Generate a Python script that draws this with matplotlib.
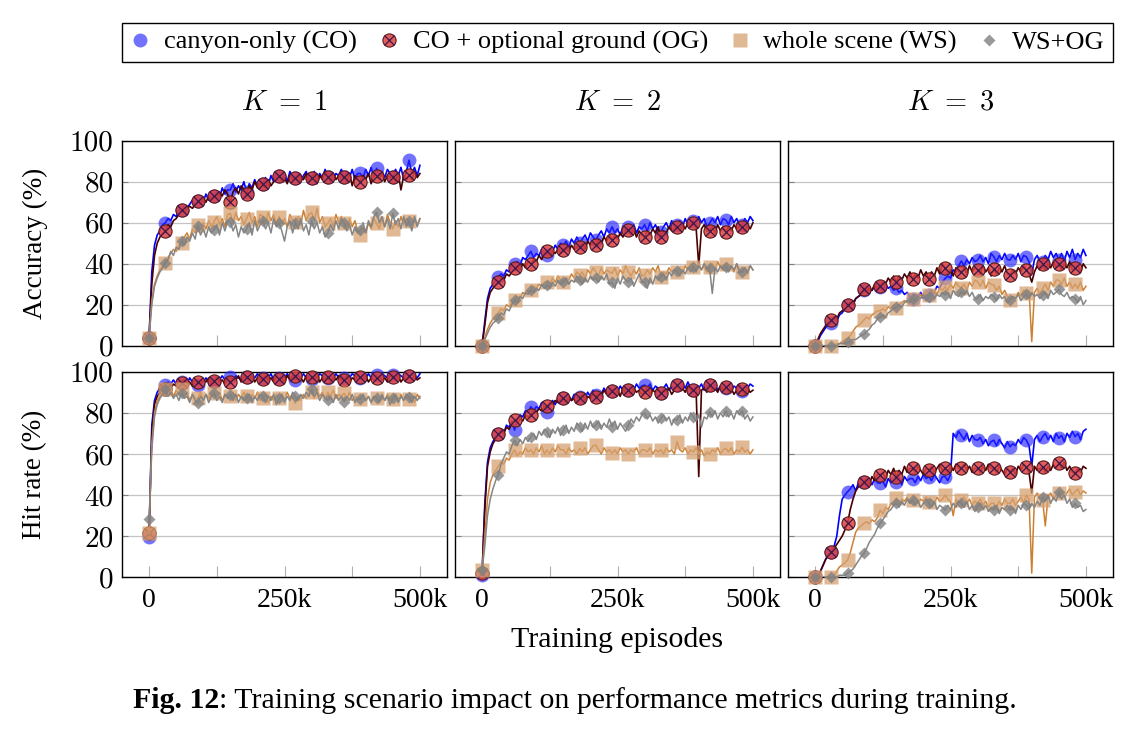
import numpy as np
import matplotlib
matplotlib.use("Agg")
import matplotlib.pyplot as plt
from matplotlib.lines import Line2D
from matplotlib.legend_handler import HandlerTuple

plt.rcParams['font.family'] = 'Liberation Serif'
plt.rcParams['mathtext.fontset'] = 'cm'

# training episodes, one value every 5k; marks every 30k
episodes = np.arange(0, 500001, 5000)

# ---- Accuracy, K = 1
acc_k1_co = [4, 36, 49, 54, 56, 59, 60, 62, 61, 64, 63, 66, 66, 68, 67, 69, 71, 68,
             70.5, 72, 70, 74, 71, 73, 73, 75, 72, 77, 74, 76, 76, 79, 75, 78, 76, 80,
             75, 79, 77, 81, 78, 80, 79, 82, 78, 83, 80, 84, 83, 81, 84, 80, 85, 82,
             81.6, 84, 80, 83, 85, 81, 82, 85, 81, 84, 82, 86, 82.5, 85, 81, 84, 83, 86,
             82.5, 85, 82, 86, 81, 84, 84, 82, 86, 83, 87, 82, 86.5, 83, 85, 82, 86, 84,
             82.5, 86, 83, 87, 81, 85, 90.5, 84, 87, 83, 88]
acc_k1_og = [4, 30, 44, 50, 53, 55, 56, 59, 58, 61, 62, 64, 66, 65, 67, 68, 67, 69,
             70.5, 69, 72, 70, 73, 71, 73, 72, 75, 73, 76, 74, 70, 75, 77, 74, 78, 76,
             74, 78, 76, 80, 77, 79, 79, 77, 81, 78, 80, 82, 83, 80, 82, 79, 83, 81,
             82, 80, 83, 81, 84, 80, 82, 84, 79, 83, 81, 85, 82.5, 80, 84, 81, 83, 82,
             82.5, 80, 84, 78, 83, 81, 80, 83, 81, 84, 79, 83, 83, 81, 84, 80, 83, 82,
             82.5, 80, 84, 76, 83, 81, 83.5, 81, 85, 82, 84]
acc_k1_ws = [4, 22, 30, 34, 37, 39, 40.5, 43, 45, 47, 46, 49, 50, 53, 55, 52, 57, 55,
             59, 56, 60, 57, 61, 58, 60.5, 63, 59, 62, 58, 64, 64.5, 60, 65, 61, 63, 59,
             62, 65, 60, 63, 58, 64, 63, 60, 65, 61, 64, 59, 63, 60, 62, 58, 64, 61,
             60.5, 63, 59, 66, 61, 64, 65, 61, 67, 60, 63, 58, 59.7, 62, 58, 64, 60, 63,
             60, 57, 62, 58, 61, 56, 54, 58, 55, 60, 57, 62, 59.7, 57, 62, 58, 64, 60,
             57, 61, 58, 63, 59, 62, 61, 57, 63, 59, 62]
acc_k1_wsog = [4, 20, 29, 33, 36, 38, 40.5, 42, 46, 44, 48, 47, 51, 49, 53, 51, 55, 52,
               58.5, 54, 57, 53, 58, 55, 56.5, 59, 54, 60, 56, 61, 60.5, 56, 59, 53, 58, 55,
               57, 60, 54, 61, 56, 59, 61, 57, 60, 55, 62, 58, 60, 56, 51, 58, 61, 55,
               60, 57, 62, 56, 59, 54, 61, 57, 60, 55, 58, 53, 55, 59, 56, 61, 57, 62,
               60, 56, 59, 54, 58, 55, 56.5, 60, 55, 61, 58, 63, 65, 60, 63, 58, 62, 57,
               64.5, 59, 62, 57, 63, 58, 61, 56, 63, 58, 62]

# ---- Accuracy, K = 2
acc_k2_co = [0, 12, 23, 28, 30, 32, 33.6, 35, 34, 37, 36, 39, 40, 41, 39, 43, 42, 44,
             46, 43, 45, 44, 47, 45, 44, 47, 46, 49, 47, 50, 49, 51, 48, 52, 50, 53,
             50, 52, 54, 51, 55, 53, 51.5, 54, 56, 53, 57, 55, 58, 55, 57, 54, 58, 56,
             58, 56, 59, 55, 58, 57, 59, 56, 60, 57, 59, 56, 55.6, 58, 60, 57, 61, 58,
             59, 61, 58, 62, 59, 60, 61, 59, 63, 60, 62, 58, 59.7, 62, 60, 63, 59, 62,
             61.3, 59, 63, 60, 62, 59, 59, 62, 60, 63, 61]
acc_k2_og = [0, 10, 21, 26, 28, 30, 31, 33, 32, 35, 34, 36, 37.7, 39, 37, 40, 38, 41,
             40, 42, 41, 44, 42, 45, 46, 44, 46, 45, 47, 45, 46.7, 48, 46, 49, 47, 48,
             48, 50, 47, 51, 49, 50, 49, 52, 50, 53, 51, 54, 51.5, 54, 52, 55, 53, 56,
             56.4, 54, 57, 53, 56, 54, 53, 56, 54, 57, 55, 58, 53, 56, 55, 58, 56, 57,
             58, 56, 59, 57, 60, 58, 60, 58, 39, 57, 59, 56, 56, 58, 55, 59, 56, 58,
             55.6, 58, 56, 59, 57, 58, 58, 56, 59, 57, 60]
acc_k2_ws = [0, 4, 8, 11, 13, 15, 16, 18, 17, 20, 19, 21, 22.3, 24, 23, 26, 25, 27,
             27, 29, 28, 30, 29, 31, 31, 30, 33, 31, 34, 32, 31, 33, 32, 35, 33, 36,
             34.5, 36, 33, 37, 35, 38, 36, 34, 38, 35, 37, 36, 35.3, 38, 34, 37, 35, 39,
             36, 34, 37, 35, 38, 34, 34.5, 37, 35, 38, 36, 39, 33.7, 36, 35, 38, 36, 37,
             36, 38, 35, 39, 37, 40, 38.5, 36, 40, 37, 39, 36, 38.5, 40, 37, 41, 38, 39,
             40, 37, 39, 36, 40, 37, 36, 38, 35, 39, 37]
acc_k2_wsog = [0, 3, 6, 9, 11, 12, 13.7, 16, 15, 18, 17, 20, 22.3, 21, 24, 23, 26, 25,
               27, 26, 28, 27, 30, 28, 29.6, 28, 31, 29, 32, 30, 31, 33, 30, 32, 31, 34,
               32, 30, 33, 31, 34, 32, 33, 31, 34, 32, 35, 30, 31, 28, 33, 30, 34, 32,
               31, 33, 29, 32, 35, 31, 31, 28, 33, 30, 34, 32, 33.7, 35, 32, 36, 34, 37,
               36.4, 34, 37, 35, 38, 36, 38.5, 36, 39, 37, 40, 38, 37.7, 25.5, 38, 36, 39, 37,
               38.5, 36, 39, 37, 40, 36, 35.8, 38, 36, 39, 37]

# ---- Accuracy, K = 3
acc_k3_co = [0, 2, 5, 7, 9, 10, 11, 13, 12, 15, 16, 18, 19.8, 21, 20, 23, 24, 25,
             27, 26, 28, 27, 29, 27, 28.8, 27, 30, 28, 29, 27, 28, 26, 27, 25, 26, 24,
             23, 25, 24, 26, 23, 25, 24.7, 27, 26, 29, 28, 31, 32.8, 34, 33, 37, 36, 39,
             41.3, 39, 42, 40, 43, 41, 41.8, 44, 41, 43, 40, 45, 43.4, 41, 44, 42, 45, 42,
             41.8, 44, 42, 45, 41, 44, 43.4, 41, 35, 42, 44, 41, 41, 44, 42, 46, 43, 45,
             42, 45, 41, 46, 43, 47, 42, 45, 43, 47, 44]
acc_k3_og = [0, 3, 6, 8, 10, 11, 12.5, 14, 13, 16, 17, 18, 19.8, 21, 20, 23, 24, 25,
             27.6, 26, 28, 27, 30, 28, 29.3, 31, 30, 33, 31, 34, 31.2, 34, 32, 35, 33, 36,
             32.5, 35, 33, 37, 34, 36, 32.5, 36, 34, 38, 35, 40, 38, 35, 37, 34, 38, 36,
             36, 38, 35, 39, 36, 38, 37, 35, 39, 36, 38, 34, 37.2, 35, 38, 36, 39, 35,
             34.5, 37, 35, 38, 36, 39, 37, 35, 31, 36, 39, 37, 39.7, 37, 40, 38, 41, 38,
             39.7, 37, 40, 38, 41, 37, 37.7, 39, 36, 40, 38]
acc_k3_ws = [0, 0, 0, 0, 0, 0, 0, 0, 1, 1, 2, 3, 3.6, 5, 7, 9, 10, 11,
             12.5, 14, 13, 15, 16, 17, 17, 18, 17, 19, 18, 20, 18.5, 20, 21, 22, 21, 23,
             23, 24, 22, 25, 24, 26, 24.7, 26, 27, 25, 28, 27, 28.8, 27, 30, 28, 31, 29,
             28.3, 30, 27, 31, 29, 32, 31.2, 29, 32, 28, 31, 30, 29.6, 27, 29, 25, 27, 24,
             22.3, 24, 23, 26, 24, 27, 25.5, 27, 2, 26, 28, 25, 28, 30, 27, 31, 29, 32,
             32, 30, 33, 29, 31, 28, 30, 28, 31, 27, 29]
acc_k3_wsog = [0, 0, 0, 0, 0, 0, 0, 0, 0, 1, 1, 1, 1.6, 2, 3, 3, 4, 5,
               5.5, 7, 8, 10, 11, 13, 14, 15, 14, 16, 17, 18, 18.7, 20, 19, 21, 22, 21,
               23, 22, 24, 23, 25, 22, 24, 26, 23, 25, 24, 26, 24.7, 26, 23, 27, 25, 24,
               26.3, 25, 27, 24, 26, 23, 23, 25, 22, 24, 23, 25, 24, 22, 25, 23, 24, 21,
               22.3, 24, 23, 25, 22, 24, 25, 23, 26, 24, 25, 23, 24.7, 26, 23, 27, 25, 26,
               27.6, 25, 24, 26, 23, 24, 23, 21, 24, 20, 22]

# ---- Hit rate, K = 1
hit_k1_co = [19.8, 74, 86, 90, 92, 93, 93.5, 95, 94, 96, 94, 95, 95, 96, 94, 97, 95, 96,
             93.5, 96, 95, 97, 95, 96, 95, 97, 96, 98, 96, 97, 97.5, 96, 98, 97, 96, 98,
             97.5, 96, 98, 97, 99, 97, 96.7, 98, 97, 99, 96, 98, 96.7, 98, 97, 99, 97, 98,
             96, 98, 97, 99, 97, 98, 96.3, 98, 97, 99, 98, 97, 96.7, 98, 97, 99, 97, 98,
             96.7, 98, 97, 99, 98, 97, 96.7, 98, 97, 99, 97, 98, 98.4, 97, 99, 98, 97, 99,
             98.4, 97, 99, 98, 97, 99, 97.9, 99, 98, 97, 99]
hit_k1_og = [21.5, 70, 84, 88, 90, 91, 91.4, 93, 92, 94, 93, 95, 94.6, 96, 94, 95, 93, 96,
             95, 94, 96, 95, 97, 94, 95.6, 97, 95, 96, 94, 97, 95, 97, 96, 98, 95, 97,
             97.5, 96, 98, 95, 97, 96, 96.4, 98, 96, 97, 95, 98, 96.4, 97, 95, 98, 96, 97,
             98, 96, 97, 95, 98, 96, 97.3, 96, 98, 95, 97, 96, 97.5, 95, 97, 96, 98, 96,
             96, 98, 95, 97, 96, 98, 97.3, 96, 98, 95, 97, 96, 96.7, 98, 96, 97, 95, 98,
             97.5, 96, 98, 95, 97, 96, 97.9, 96, 98, 96, 97]
hit_k1_ws = [21.4, 65, 80, 86, 88, 90, 91.4, 89, 92, 88, 91, 89, 91.4, 88, 90, 86, 89, 87,
             87, 90, 86, 89, 87, 91, 89.5, 87, 90, 86, 89, 88, 88, 90, 86, 89, 87, 90,
             88, 86, 89, 87, 90, 86, 87, 89, 85, 88, 86, 89, 87, 89, 86, 90, 87, 88,
             84.6, 88, 86, 89, 87, 90, 90, 87, 91, 88, 90, 87, 90, 88, 91, 87, 89, 88,
             89.5, 87, 90, 86, 88, 87, 86.5, 89, 86, 88, 85, 88, 87.4, 85, 88, 86, 89, 87,
             86.5, 88, 85, 89, 86, 88, 86.5, 88, 85, 89, 87]
hit_k1_wsog = [28.2, 62, 78, 84, 87, 89, 91.4, 88, 90, 87, 89, 86, 89.5, 87, 88, 85, 89, 86,
               85, 88, 86, 89, 85, 88, 89.5, 86, 88, 85, 89, 87, 88.7, 86, 89, 85, 88, 86,
               87, 89, 85, 88, 86, 89, 88, 85, 88, 86, 89, 84, 87, 89, 85, 88, 86, 90,
               88, 86, 89, 87, 90, 88, 91.4, 88, 90, 86, 89, 87, 86, 88, 85, 89, 86, 88,
               85.4, 88, 86, 89, 85, 87, 86.5, 89, 86, 88, 85, 88, 87, 85, 89, 86, 88, 84,
               87, 89, 85, 88, 86, 89, 87.5, 85, 88, 86, 88]

# ---- Hit rate, K = 2
hit_k2_co = [1, 36, 56, 63, 66, 68, 69.7, 72, 70, 74, 73, 76, 71.6, 77, 79, 78, 81, 80,
             83, 81, 83, 82, 85, 83, 80.5, 84, 86, 84, 87, 85, 87, 85, 88, 86, 89, 87,
             87.8, 89, 87, 90, 88, 91, 88.6, 90, 89, 92, 90, 91, 90.7, 92, 90, 93, 91, 92,
             91, 93, 91, 94, 92, 93, 93.5, 92, 94, 91, 93, 92, 89.5, 92, 94, 91, 93, 92,
             93.5, 91, 94, 92, 95, 92, 91, 93, 92, 94, 91, 93, 93.5, 92, 94, 91, 93, 92,
             92, 94, 91, 93, 92, 94, 90.7, 93, 92, 94, 93]
hit_k2_og = [2, 33, 54, 61, 65, 67, 69.7, 71, 70, 73, 72, 75, 76.5, 75, 77, 76, 79, 78,
             79, 81, 80, 82, 81, 83, 83.3, 85, 84, 86, 85, 87, 87, 85, 88, 86, 87, 85,
             87, 89, 86, 88, 87, 89, 87.8, 90, 88, 91, 89, 90, 90.7, 89, 91, 88, 92, 90,
             91, 89, 92, 90, 91, 89, 90.3, 92, 89, 91, 90, 92, 89.5, 91, 90, 92, 89, 91,
             93.5, 91, 92, 90, 93, 91, 91, 92, 49, 91, 92, 90, 93.5, 91, 92, 90, 93, 91,
             92.4, 90, 92, 89, 91, 90, 91.4, 89, 92, 90, 91]
hit_k2_ws = [3.6, 20, 38, 46, 50, 52, 54, 56, 55, 58, 57, 60, 62, 59, 61, 60, 63, 61,
             62, 60, 63, 61, 64, 60, 62, 60, 63, 61, 64, 62, 62, 60, 63, 61, 62, 60,
             62.7, 61, 63, 60, 62, 64, 64.3, 62, 60, 63, 61, 62, 60.3, 62, 60, 63, 61, 62,
             60, 62, 61, 63, 60, 62, 62, 61, 63, 60, 62, 61, 62, 60, 63, 61, 62, 60,
             66, 62, 61, 63, 60, 62, 61, 63, 60, 62, 59, 61, 60, 62, 61, 63, 60, 62,
             62.7, 61, 63, 60, 62, 61, 63.2, 61, 62, 60, 62]
hit_k2_wsog = [3.6, 15, 30, 38, 43, 47, 49.8, 55, 58, 61, 60, 64, 66.8, 64, 67, 65, 68, 66,
               68.4, 70, 67, 71, 69, 72, 70.8, 68, 72, 70, 73, 69, 71.6, 74, 70, 73, 71, 75,
               73.3, 71, 75, 72, 76, 73, 74, 76, 72, 75, 73, 77, 73.3, 76, 72, 75, 73, 71,
               74, 77, 75, 78, 76, 79, 80, 77, 79, 76, 78, 75, 77.3, 79, 76, 78, 74, 77,
               76.5, 79, 75, 78, 76, 80, 78, 76, 79, 73, 78, 77, 80.5, 78, 81, 77, 80, 78,
               81, 78, 80, 77, 81, 79, 81, 77, 79, 76, 78]

# ---- Hit rate, K = 3
hit_k3_co = [0, 0, 3, 6, 9, 11, 12.5, 15, 20, 30, 38, 40, 41.6, 43, 45, 42, 46, 44,
             46.5, 44, 47, 45, 48, 46, 45.7, 47, 44, 48, 46, 47, 46.5, 48, 45, 49, 47, 48,
             48, 46, 49, 47, 50, 48, 49, 47, 50, 48, 46, 49, 49, 47, 50, 70, 68, 71,
             69, 67, 70, 66, 69, 67, 66.7, 68, 65, 67, 64, 66, 66.7, 64, 67, 65, 63, 66,
             63.5, 65, 64, 67, 65, 68, 66.7, 64, 54, 67, 69, 66, 68.4, 70, 67, 69, 66, 70,
             67.6, 69, 66, 70, 68, 71, 68.4, 70, 67, 71, 72]
hit_k3_og = [0, 0, 3, 6, 9, 11, 12.5, 14, 16, 18, 20, 23, 26.3, 33, 38, 42, 44, 45,
             46.5, 48, 45, 49, 47, 50, 49.8, 51, 48, 52, 50, 53, 49, 52, 50, 54, 51, 53,
             53, 51, 54, 52, 50, 53, 52, 54, 51, 53, 55, 52, 53, 51, 54, 52, 55, 53,
             53, 55, 52, 54, 51, 53, 53, 51, 54, 52, 55, 53, 53, 51, 54, 52, 50, 53,
             51.4, 53, 50, 54, 52, 55, 53.8, 51, 41, 54, 52, 53, 53.8, 51, 54, 52, 55, 53,
             55.4, 53, 56, 52, 54, 51, 50.6, 53, 51, 54, 53]
hit_k3_ws = [0, 0, 0, 0, 0, 0, 0, 1, 3, 5, 6, 7, 8.4, 12, 17, 22, 24, 25,
             26.3, 27, 26, 28, 27, 29, 32.7, 31, 34, 33, 36, 35, 38.4, 36, 38, 37, 39, 36,
             37.6, 39, 36, 38, 37, 39, 36.8, 38, 36, 39, 37, 38, 40, 38, 37, 30, 38, 36,
             37.6, 39, 36, 38, 35, 37, 36, 38, 35, 37, 34, 36, 36, 34, 37, 35, 38, 36,
             36, 38, 35, 37, 39, 36, 40, 38, 2, 39, 41, 38, 37.6, 25, 39, 41, 38, 40,
             40.8, 42, 39, 41, 43, 40, 41.6, 43, 40, 42, 41]
hit_k3_wsog = [0, 0, 0, 0, 0, 0, 0, 0, 0, 1, 1, 1, 2, 3, 4, 6, 8, 10,
               11.7, 14, 17, 19, 21, 24, 26.3, 28, 30, 32, 33, 35, 36, 34, 37, 35, 38, 36,
               37.6, 35, 37, 34, 36, 38, 36, 34, 37, 33, 35, 34, 32.7, 35, 33, 36, 34, 37,
               36, 34, 37, 33, 35, 32, 34.4, 36, 33, 35, 32, 34, 32.7, 35, 31, 34, 33, 35,
               32.7, 34, 31, 35, 33, 36, 35, 33, 36, 34, 37, 35, 39, 37, 40, 36, 39, 37,
               41.6, 38, 40, 36, 38, 34, 36, 34, 35, 32, 33]

panels = [
    [(acc_k1_co, acc_k1_og, acc_k1_ws, acc_k1_wsog),
     (acc_k2_co, acc_k2_og, acc_k2_ws, acc_k2_wsog),
     (acc_k3_co, acc_k3_og, acc_k3_ws, acc_k3_wsog)],
    [(hit_k1_co, hit_k1_og, hit_k1_ws, hit_k1_wsog),
     (hit_k2_co, hit_k2_og, hit_k2_ws, hit_k2_wsog),
     (hit_k3_co, hit_k3_og, hit_k3_ws, hit_k3_wsog)],
]
col_titles = [r'$K\ =\ 1$', r'$K\ =\ 2$', r'$K\ =\ 3$']
row_labels = ['Accuracy (%)', 'Hit rate (%)']
legend_labels = ['canyon-only (CO)', 'CO + optional ground (OG)', 'whole scene (WS)', 'WS+OG']

# styles
co_line, og_line, ws_line, wsog_line = '#0000ff', '#4a0000', '#cc8033', '#858585'
co_mark = dict(marker='o', ms=10, mfc=(0.15, 0.15, 1.0, 0.65), mec='none')
og_mark = dict(marker='o', ms=9.5, mfc=(0.88, 0.25, 0.25, 0.85), mec='#5a1a1a', mew=0.8)
og_x = dict(marker='x', ms=6.5, mec='#3a1a4a', mew=0.9)
ws_mark = dict(marker='s', ms=10, mfc=(0.84, 0.63, 0.44, 0.75), mec='none')
wsog_mark = dict(marker='D', ms=6, mfc=(0.5, 0.5, 0.5, 0.8), mec='none')

W, H = 1136, 733
fig = plt.figure(figsize=(W / 100, H / 100), dpi=100)
col_left = [122, 455, 788]
col_w = 325
row_top = [140.7, 371.7]
row_h = [205, 205.6]

for r in range(2):
    for c in range(3):
        ax = fig.add_axes([col_left[c] / W, 1 - (row_top[r] + row_h[r]) / H, col_w / W, row_h[r] / H])
        co, og, ws, wsog = panels[r][c]
        ax.plot(episodes, co, color=co_line, lw=1.2, zorder=2)
        ax.plot(episodes, co, ls='none', markevery=6, clip_on=False, zorder=3, **co_mark)
        ax.plot(episodes, og, color=og_line, lw=1.2, zorder=4)
        ax.plot(episodes, og, ls='none', markevery=6, clip_on=False, zorder=5, **og_mark)
        ax.plot(episodes, og, ls='none', markevery=6, clip_on=False, zorder=5, **og_x)
        ax.plot(episodes, ws, color=ws_line, lw=1.1, zorder=6)
        ax.plot(episodes, ws, ls='none', markevery=6, clip_on=False, zorder=7, **ws_mark)
        ax.plot(episodes, wsog, color=wsog_line, lw=1.1, zorder=8)
        ax.plot(episodes, wsog, ls='none', markevery=6, clip_on=False, zorder=9, **wsog_mark)

        ax.set_xlim(-50000, 550000)
        ax.set_ylim(0, 100)
        ax.set_yticks([0, 20, 40, 60, 80, 100])
        ax.set_xticks([0, 125000, 250000, 375000, 500000])
        ax.grid(axis='y', color='#c4c4c4', lw=0.9, zorder=0)
        ax.tick_params(axis='x', direction='in', length=8, width=0.8, color='#b0b0b0', pad=8)
        ax.tick_params(axis='y', direction='in', length=4, width=0.8, color='#808080', pad=6)
        for sp in ax.spines.values():
            sp.set_linewidth(1.0)
        if r == 1:
            ax.set_xticklabels(['0', '', '250k', '', '500k'], fontsize=20)
        else:
            ax.set_xticklabels([])
        if c == 0:
            ax.set_yticklabels(['0', '20', '40', '60', '80', '100'], fontfamily='cmr10', fontsize=21)
        else:
            ax.set_yticklabels([])
        if r == 0:
            fig.text((col_left[c] + col_w / 2) / W, 1 - 103 / H, col_titles[c],
                     ha='center', va='center', fontsize=20.5)
        if c == 0:
            fig.text(35 / W, 1 - (row_top[r] + row_h[r] / 2) / H, row_labels[r],
                     rotation=90, ha='center', va='center', fontsize=19.5)

fig.text(617 / W, 1 - 640 / H, 'Training episodes', ha='center', va='center', fontsize=21.5)

# legend with marks only
handles = [
    Line2D([], [], ls='none', **co_mark),
    (Line2D([], [], ls='none', **og_mark), Line2D([], [], ls='none', **og_x)),
    Line2D([], [], ls='none', **ws_mark),
    Line2D([], [], ls='none', **wsog_mark),
]
leg = fig.legend(handles, legend_labels, handler_map={tuple: HandlerTuple(ndivide=1)},
                 ncol=4, loc='center', bbox_to_anchor=(122 / W, 1 - 67 / H, 991 / W, 49 / H),
                 mode='expand', borderaxespad=0, fancybox=False, edgecolor='black',
                 framealpha=1, fontsize=19, handlelength=0.8, handletextpad=0.5,
                 borderpad=0.3, columnspacing=1.0)
leg.get_frame().set_linewidth(1.0)

# caption
cap = fig.text(133 / W, 1 - 700 / H, 'Fig. 12', fontweight='bold', fontsize=21.5,
               ha='left', va='center')
fig.axes[0].annotate(': Training scenario impact on performance metrics during training.',
                     xy=(1, 0), xycoords=cap, ha='left', va='bottom', fontsize=21.5,
                     annotation_clip=False)

fig.savefig('out.png', dpi=100)
